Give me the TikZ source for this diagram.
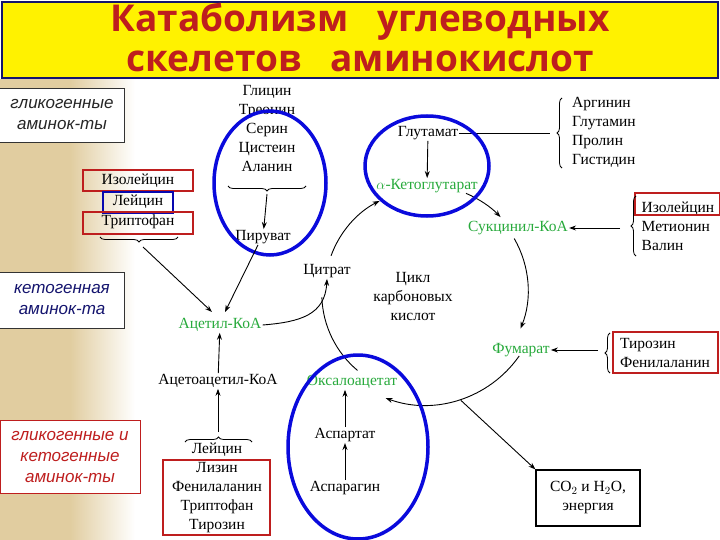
\documentclass[tikz,border=0pt]{standalone}
\usepackage{fontspec}
\setmainfont{Liberation Serif}
\newfontfamily\titlefont{Open Sans}
\newfontfamily\labfont{Liberation Sans}
\usetikzlibrary{decorations.pathreplacing,arrows.meta,calc}
\definecolor{tgreen}{RGB}{40,170,60}
\definecolor{tred}{RGB}{190,30,30}
\definecolor{tblue}{RGB}{10,10,220}
\definecolor{navy}{RGB}{20,20,110}
\tikzset{
 t/.style={font=\fontsize{15.5}{19}\selectfont, inner sep=1pt, align=center},
 g/.style={t, text=tgreen},
 lab/.style={draw=black!80, fill=white, font=\labfont\itshape\fontsize{17}{21}\selectfont, align=center, inner sep=2pt},
 arr/.style={-{Stealth[length=7pt,width=5pt]}, line width=0.9pt},
 ln/.style={line width=0.9pt},
 rbox/.style={draw=tred, line width=1.4pt},
 oval/.style={draw=tblue, line width=3.5pt},
 brc/.style={decorate, decoration={brace, amplitude=5pt}, line width=0.8pt},
}
\begin{document}
\begin{tikzpicture}[x=1pt,y=-1pt]
\useasboundingbox (0,0) rectangle (720,540);
\fill[white] (0,0) rectangle (720,540);
\shade[left color={rgb,255:red,225;green,205;blue,160}, right color={rgb,255:red,225;green,205;blue,160}] (0,80) rectangle (70,540);
\shade[left color={rgb,255:red,225;green,205;blue,160}, right color=white] (70,80) rectangle (135,540);
% title
\node[draw=navy, line width=2pt, fill=yellow, minimum width=716pt, minimum height=76pt, inner sep=0pt] (title) at (360,40) {};
\node[text=tred, font=\titlefont\bfseries\fontsize{37}{40}\selectfont, align=center] (tt) at (360,37) {Катаболизм\ \ \ углеводных\\скелетов\ \ \ аминокислот};
% side labels
\node[lab, text=black!85, minimum width=125pt, minimum height=54pt] (l1) at (62,115) {гликогенные\\аминок-ты};
\node[lab, text=navy, minimum width=125pt, minimum height=56pt] (l2) at (62,300) {кетогенная\\аминок-та};
\node[lab, draw=tred, text=tred, minimum width=140pt, minimum height=73pt] (l3) at (70,457) {гликогенные и\\кетогенные\\аминок-ты};
% cycle
\coordinate (c) at (425,290);
\node[t] (cit) at (327,271) {Цитрат};
\node[g] (akg) at (427,186) {$\alpha$-Кетоглутарат};
\node[g] (suc) at (518,228) {Сукцинил-КоА};
\node[g] (fum) at (521,350) {Фумарат};
\node[g] (oxa) at (352,382) {Оксалоацетат};
\node[t] (cyc) at (413,296) {Цикл\\карбоновых\\кислот};
\draw[arr] ($(c)+(200:100)$) arc[start angle=200, end angle=243, radius=100];
\draw[arr] ($(c)+(293:105)$) arc[start angle=293, end angle=316, radius=105];
\draw[arr] ($(c)+(330:103)$) arc[start angle=330, end angle=382, radius=103];
\draw[arr] ($(c)+(35:115)$) arc[start angle=35, end angle=110, radius=115];
\draw[ln] ($(c)+(130:105)$) arc[start angle=130, end angle=178, radius=100];
% glutamate
\node[t] (glu) at (428,133) {Глутамат};
\draw[arr] (glu) -- (akg);
\node[t, align=left] (g4) at (604,132) {Аргинин\\Глутамин\\Пролин\\Гистидин};
\draw[brc] (562,168) -- (562,98);
\draw[ln] (glu.east) -- (550,133);
% succinyl group
\node[t, align=left] (s3) at (678,226) {Изолейцин\\Метионин\\Валин};
\draw[rbox] (635,193) rectangle (720,215);
\draw[brc] (636,256) -- (636,196);
\draw[arr] (620,228) -- (suc);
% fumarate group
\node[t, align=left] (f2) at (665,353) {Тирозин\\Фенилаланин};
\draw[rbox] (613,332) rectangle (718,373);
\draw[brc] (610,373) -- (610,333);
\draw[arr] (598,350) -- (fum);
% CO2
\node[draw, line width=1.2pt, t, minimum width=104pt, minimum height=56pt] (co2) at (588,498) {CO$_2$ и H$_2$O,\\энергия};
\draw[arr] ($(c)+(72:116)$) -- (co2.north west);
% pyruvate group
\node[t] (gly) at (267,129) {Глицин\\Треонин\\Серин\\Цистеин\\Аланин};
\draw[brc] (306,186) -- (228,186);
\node[t] (pyr) at (263,237) {Пируват};
\draw[arr] (267,194) -- (pyr);
\draw[oval] (270,183) ellipse[x radius=56, y radius=72];
% Ile Leu Trp
\node[t] (ile) at (138,181) {Изолейцин};
\node[t] (leu) at (138,202) {Лейцин};
\node[t] (trp) at (138,222) {Триптофан};
\draw[rbox] (83,170) rectangle (193,191);
\draw[draw=tblue!80!black, line width=1.2pt] (103,192) rectangle (173,213);
\draw[rbox] (83,212) rectangle (193,234);
\draw[brc] (178,237) -- (100,237);
% acetyl
\node[g] (acc) at (220,325) {Ацетил-КоА};
\draw[arr] (143,247) -- (212,312);
\draw[arr] (pyr.south) ++(-5,0) -- (225,312);
\draw[arr] (acc.east) .. controls (300,322) and (325,315) .. (cit.south);
\node[t] (aac) at (218,381) {Ацетоацетил-КоА};
\draw[arr] (aac) -- (acc);
\node[t] (lg) at (217,488) {Лейцин\\Лизин\\Фенилаланин\\Триптофан\\Тирозин};
\draw[rbox] (163,460) rectangle (270,535);
\draw[brc] (185,442) -- (252,442);
\draw[arr] (218,432) -- (aac);
% aspartate
\node[t] (asp) at (345,435) {Аспартат};
\node[t] (asn) at (345,488) {Аспарагин};
\draw[arr] (asn) -- (asp);
\draw[arr] (asp) -- (oxa.south -| asp);
\draw[oval] (427,166) ellipse[x radius=62, y radius=50];
\draw[oval] (358,447) ellipse[x radius=70, y radius=92];
\end{tikzpicture}
\end{document}
